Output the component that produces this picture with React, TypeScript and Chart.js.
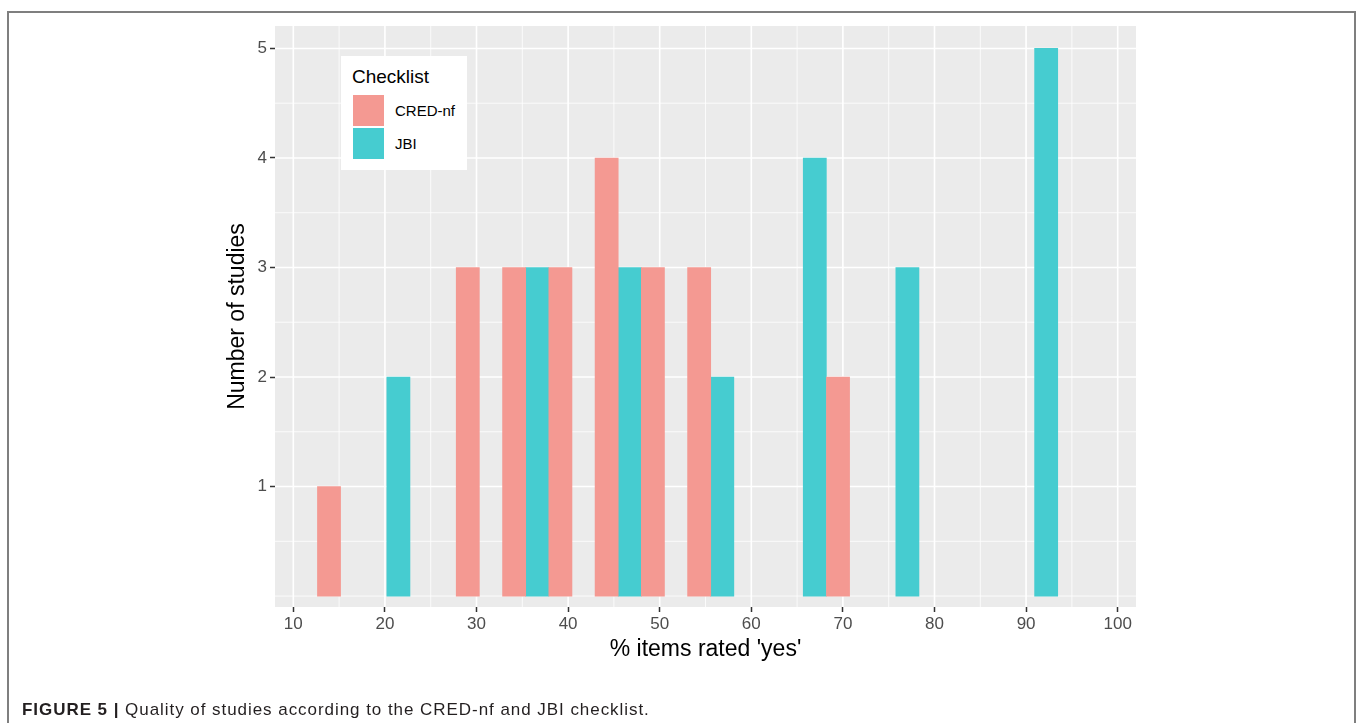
import React, { useEffect, useRef } from "react";
import { Chart, registerables } from "chart.js";

Chart.register(...registerables);

// Histogram bins (centre of each 5.05-wide bin, % items rated 'yes')
const binCenters = [15.16, 20.21, 25.26, 30.31, 35.37, 40.42, 45.47, 50.52, 55.57, 60.62, 65.67, 70.73, 75.78, 80.83, 85.88, 90.93];
const credCounts = [1, 0, 0, 3, 3, 3, 4, 3, 3, 0, 0, 2, 0, 0, 0, 0];
const jbiCounts = [0, 2, 0, 0, 3, 0, 3, 0, 2, 0, 4, 0, 3, 0, 0, 5];

const xTicks = [10, 20, 30, 40, 50, 60, 70, 80, 90, 100];
const xMinor = [15, 25, 35, 45, 55, 65, 75, 85, 95];
const yTicks = [1, 2, 3, 4, 5];
const yMinor = [0, 0.5, 1.5, 2.5, 3.5, 4.5];

const seriesNames = ["CRED-nf", "JBI"];
const seriesColors = ["#F49992", "#46CCD0"];

const FONT = '"Liberation Sans", Arial, Helvetica, sans-serif';

const panelPlugin = {
  id: "ggPanel",
  beforeDraw(chart: any) {
    const { ctx, chartArea } = chart;
    const xs = chart.scales.x;
    const ys = chart.scales.y;
    const { left, right, top, bottom } = chartArea;
    ctx.save();
    ctx.fillStyle = "#EBEBEB";
    ctx.fillRect(left, top, right - left, bottom - top);
    ctx.strokeStyle = "#FFFFFF";
    ctx.lineWidth = 0.8;
    ctx.beginPath();
    xMinor.forEach((v) => {
      const p = xs.getPixelForValue(v);
      ctx.moveTo(p, top);
      ctx.lineTo(p, bottom);
    });
    yMinor.forEach((v) => {
      const p = ys.getPixelForValue(v);
      ctx.moveTo(left, p);
      ctx.lineTo(right, p);
    });
    ctx.stroke();
    ctx.lineWidth = 1.6;
    ctx.beginPath();
    xTicks.forEach((v) => {
      const p = xs.getPixelForValue(v);
      ctx.moveTo(p, top);
      ctx.lineTo(p, bottom);
    });
    yTicks.forEach((v) => {
      const p = ys.getPixelForValue(v);
      ctx.moveTo(left, p);
      ctx.lineTo(right, p);
    });
    ctx.stroke();
    ctx.restore();
  },
};

const toPoints = (counts: number[]) =>
  binCenters.map((x, i) => ({ x, y: counts[i] > 0 ? counts[i] : null }));

export default function App() {
  const ref = useRef<HTMLCanvasElement>(null);

  useEffect(() => {
    const canvas = ref.current;
    if (!canvas) return;
    const chart = new Chart(canvas, {
      type: "bar",
      data: {
        datasets: [
          {
            label: seriesNames[0],
            data: toPoints(credCounts),
            backgroundColor: seriesColors[0],
            borderWidth: 0,
            barPercentage: 1,
            categoryPercentage: 1,
          },
          {
            label: seriesNames[1],
            data: toPoints(jbiCounts),
            backgroundColor: seriesColors[1],
            borderWidth: 0,
            barPercentage: 1,
            categoryPercentage: 1,
          },
        ],
      },
      options: {
        responsive: false,
        animation: false,
        devicePixelRatio: window.devicePixelRatio || 1,
        layout: { padding: { left: 224, top: 26, right: 222, bottom: 60 } },
        plugins: { legend: { display: false }, tooltip: { enabled: false } },
        scales: {
          x: {
            type: "linear",
            min: 8,
            max: 102,
            offset: false,
            afterBuildTicks: (s: any) => {
              s.ticks = xTicks.map((v) => ({ value: v }));
            },
            afterFit: (s: any) => {
              s.height = 56;
            },
            grid: {
              display: true,
              drawOnChartArea: false,
              drawTicks: true,
              tickLength: 5,
              tickWidth: 1.5,
              tickColor: "#333333",
              offset: false,
            },
            border: { display: false },
            ticks: {
              color: "#4D4D4D",
              font: { size: 17, family: FONT },
              padding: 2,
              maxRotation: 0,
              autoSkip: false,
              callback: (v: any) => String(v),
            },
            title: {
              display: true,
              text: "% items rated 'yes'",
              color: "#000000",
              font: { size: 23, family: FONT },
              padding: 0,
            },
          },
          y: {
            type: "linear",
            min: -0.1,
            max: 5.205,
            afterBuildTicks: (s: any) => {
              s.ticks = yTicks.map((v) => ({ value: v }));
            },
            afterFit: (s: any) => {
              s.width = 51;
            },
            grid: {
              display: true,
              drawOnChartArea: false,
              drawTicks: true,
              tickLength: 5,
              tickWidth: 1.5,
              tickColor: "#333333",
            },
            border: { display: false },
            ticks: {
              color: "#4D4D4D",
              font: { size: 17, family: FONT },
              padding: 3,
              callback: (v: any) => String(v),
            },
            title: {
              display: true,
              text: "Number of studies",
              color: "#000000",
              font: { size: 23, family: FONT },
              padding: 0,
            },
          },
        },
      },
      plugins: [panelPlugin],
    } as any);
    return () => chart.destroy();
  }, []);

  return (
    <div
      style={{
        position: "fixed",
        left: 0,
        top: 0,
        width: 1358,
        height: 723,
        overflow: "hidden",
        background: "#FFFFFF",
        fontFamily: FONT,
      }}
    >
      <div
        style={{
          position: "absolute",
          left: 7,
          top: 11,
          width: 1349,
          height: 800,
          border: "2px solid #7F7F7F",
          boxSizing: "border-box",
        }}
      />
      <canvas
        ref={ref}
        width={1358}
        height={723}
        style={{ position: "absolute", left: 0, top: 0, width: 1358, height: 723 }}
      />
      <div
        style={{
          position: "absolute",
          left: 341,
          top: 56,
          width: 126,
          height: 114,
          background: "#FFFFFF",
        }}
      >
        <div style={{ position: "absolute", left: 11, top: 10, fontSize: 19, lineHeight: "22px", color: "#000" }}>
          Checklist
        </div>
        {seriesNames.map((name, i) => (
          <React.Fragment key={name}>
            <div
              style={{
                position: "absolute",
                left: 12,
                top: 39 + i * 33,
                width: 31,
                height: 31,
                background: seriesColors[i],
              }}
            />
            <div
              style={{
                position: "absolute",
                left: 54,
                top: 46 + i * 33,
                fontSize: 15,
                lineHeight: "18px",
                color: "#000",
                whiteSpace: "nowrap",
              }}
            >
              {name}
            </div>
          </React.Fragment>
        ))}
      </div>
      <div
        style={{
          position: "absolute",
          left: 22,
          top: 699,
          fontSize: 17,
          letterSpacing: "0.95px",
          lineHeight: "22px",
          color: "#231F20",
          whiteSpace: "nowrap",
        }}
      >
        <b>FIGURE 5 |</b> Quality of studies according to the CRED-nf and JBI checklist.
      </div>
    </div>
  );
}
